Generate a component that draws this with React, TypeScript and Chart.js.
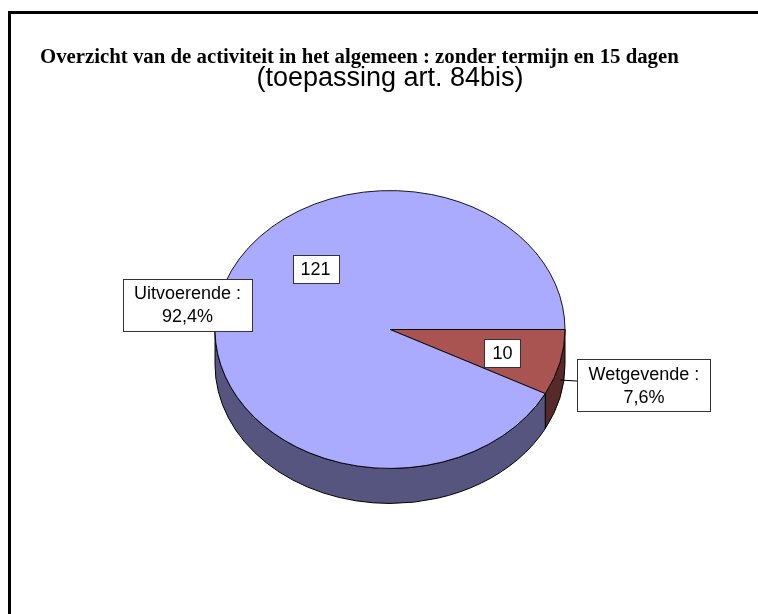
import React, { useEffect, useRef } from "react";
import { Chart, registerables } from "chart.js";

Chart.register(...registerables);

// ---- data ----
const categories = ["Wetgevende", "Uitvoerende"];
const values = [10, 121];
const titleText = "Overzicht van de activiteit in het algemeen : zonder termijn en 15 dagen";
const subtitleText = "(toepassing art. 84bis)";

// ---- styles ----
const topColors = ["#AA5451", "#AAAAFF"];
const sideColors = ["#552A28", "#55557F"];
const DEPTH = 35;
const TILT = 0.794;
const SANS = "'Liberation Sans', Arial, sans-serif";
const SERIF = "'Liberation Serif', 'Times New Roman', serif";

// label placement: polar (degrees clockwise from 3 o'clock, fraction of radius)
const valueLabelPos = [
  { a: 14.5, r: 0.664 },
  { a: 225.9, r: 0.611 },
];
const categoryLabelPos = [
  { a: 15.4, r: 1.505, leader: true },
  { a: 188.8, r: 1.171, leader: false },
];

const TWO_PI = Math.PI * 2;
const norm = (a: number) => ((a % TWO_PI) + TWO_PI) % TWO_PI;

function drawWall(ctx: CanvasRenderingContext2D, cx: number, cy: number, R: number, k: number, a: number, b: number, color: string) {
  ctx.beginPath();
  ctx.ellipse(cx, cy, R, R * k, 0, a, b, false);
  ctx.lineTo(cx + R * Math.cos(b), cy + R * k * Math.sin(b) + DEPTH);
  ctx.ellipse(cx, cy + DEPTH, R, R * k, 0, b, a, true);
  ctx.closePath();
  ctx.fillStyle = color;
  ctx.fill();
  ctx.strokeStyle = "#000";
  ctx.lineWidth = 1;
  ctx.stroke();
}

function drawBox(ctx: CanvasRenderingContext2D, x: number, y: number, w: number, h: number) {
  const W = Math.round(w), H = Math.round(h);
  const l = Math.round(x - W / 2) + 0.5, t = Math.round(y - H / 2) + 0.5;
  ctx.fillStyle = "#fff";
  ctx.fillRect(l, t, W, H);
  ctx.strokeStyle = "#333";
  ctx.lineWidth = 1;
  ctx.strokeRect(l, t, W, H);
}

const pie3d = {
  id: "pie3d",
  beforeDraw(chart: any) {
    const ctx = chart.ctx;
    ctx.save();
    ctx.fillStyle = "#fff";
    ctx.fillRect(0, 0, chart.width, chart.height);
    ctx.fillStyle = "#000";
    ctx.fillRect(8, 11, chart.width - 8, 3);
    ctx.fillRect(8, 11, 3, chart.height - 11);
    ctx.restore();
  },
  beforeDatasetsDraw(chart: any) {
    const ctx = chart.ctx;
    const arcs = chart.getDatasetMeta(0).data;
    const cx = arcs[0].x, cy = arcs[0].y, R = arcs[0].outerRadius;
    ctx.save();
    arcs.forEach((arc: any, i: number) => {
      const s = norm(arc.startAngle);
      const e = s + (arc.endAngle - arc.startAngle);
      for (const [lo, hi] of [[0, Math.PI], [TWO_PI, TWO_PI + Math.PI]]) {
        const a = Math.max(s, lo), b = Math.min(e, hi);
        if (b > a) drawWall(ctx, cx, cy, R, TILT, a, b, sideColors[i]);
      }
    });
    ctx.restore();
    ctx.save();
    ctx.translate(cx, cy);
    ctx.scale(1, TILT);
    ctx.translate(-cx, -cy);
  },
  afterDatasetsDraw(chart: any) {
    const ctx = chart.ctx;
    ctx.restore();
    const arcs = chart.getDatasetMeta(0).data;
    const cx = arcs[0].x, cy = arcs[0].y, R = arcs[0].outerRadius;
    const total = values.reduce((s, v) => s + v, 0);
    ctx.save();
    ctx.font = `18px ${SANS}`;
    ctx.textAlign = "center";
    ctx.textBaseline = "middle";
    arcs.forEach((arc: any, i: number) => {
      // category label
      const cp = categoryLabelPos[i];
      const ca = (cp.a * Math.PI) / 180;
      const bx = cx + R * cp.r * Math.cos(ca);
      const by = cy + R * cp.r * TILT * Math.sin(ca);
      const lines = [`${categories[i]} :`, `${((values[i] / total) * 100).toFixed(1).replace(".", ",")}%`];
      if (cp.leader) {
        const mid = (arc.startAngle + arc.endAngle) / 2;
        const px = cx + R * Math.cos(mid);
        const py = cy + R * TILT * Math.sin(mid) + DEPTH / 2;
        ctx.beginPath();
        ctx.moveTo(px, py);
        ctx.lineTo(bx, by);
        ctx.strokeStyle = "#000";
        ctx.lineWidth = 1;
        ctx.stroke();
      }
      const tw = Math.max(...lines.map((l) => ctx.measureText(l).width));
      drawBox(ctx, bx, by, tw + 22, 52);
      ctx.fillStyle = "#000";
      ctx.fillText(lines[0], bx, by - 10.5);
      ctx.fillText(lines[1], bx, by + 12.5);

      // value label
      const vp = valueLabelPos[i];
      const va = (vp.a * Math.PI) / 180;
      const vx = cx + R * vp.r * Math.cos(va);
      const vy = cy + R * vp.r * TILT * Math.sin(va);
      const txt = String(values[i]);
      const vw = ctx.measureText(txt).width;
      drawBox(ctx, vx, vy, vw + 16, 28);
      ctx.fillStyle = "#000";
      ctx.fillText(txt, vx, vy + 1);
    });
    ctx.restore();
  },
};

export default function App() {
  const ref = useRef<HTMLCanvasElement | null>(null);
  useEffect(() => {
    if (!ref.current) return;
    const chart = new Chart(ref.current, {
      type: "pie",
      data: {
        labels: categories,
        datasets: [
          {
            data: values,
            backgroundColor: topColors,
            borderColor: "#000",
            borderWidth: 1,
            clip: false as any,
          },
        ],
      },
      options: {
        responsive: false,
        animation: false,
        devicePixelRatio: 1,
        events: [],
        rotation: 90,
        layout: { padding: { left: 40, right: 18, top: 0, bottom: 109 } },
        plugins: {
          legend: { display: false },
          tooltip: { enabled: false },
          title: {
            display: true,
            text: titleText,
            align: "start",
            color: "#000",
            font: { family: SERIF, size: 20.8, weight: "bold", lineHeight: 1 },
            padding: { top: 47, bottom: 0 },
          },
          subtitle: {
            display: true,
            text: subtitleText,
            align: "center",
            color: "#000",
            font: { family: SANS, size: 27, weight: "normal", lineHeight: 0.8 },
            padding: { top: 0, bottom: 64.6 },
          },
        },
      } as any,
      plugins: [pie3d as any],
    });
    return () => chart.destroy();
  }, []);
  return (
    <div style={{ position: "absolute", left: 0, top: 0, width: 758, height: 614, background: "#fff" }}>
      <canvas ref={ref} width={758} height={614} style={{ display: "block" }} />
    </div>
  );
}
